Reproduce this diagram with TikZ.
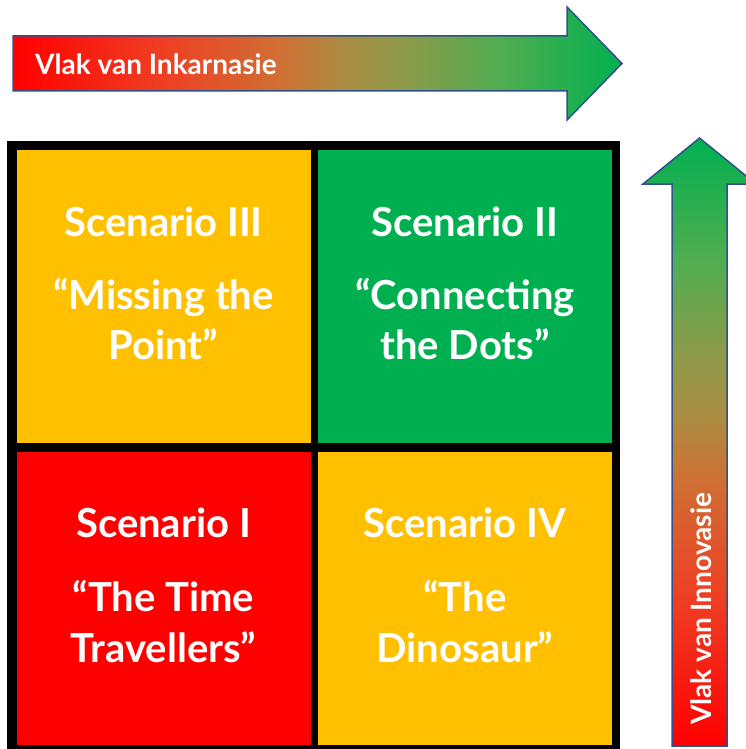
\documentclass[tikz,border=0pt]{standalone}
\usepackage{fontspec}
\setmainfont{Lato}
\definecolor{scenred}{HTML}{FF0000}
\definecolor{scenyellow}{HTML}{FFC000}
\definecolor{scengreen}{HTML}{00B050}
\definecolor{axisblue}{HTML}{2F528F}
\definecolor{axisa}{HTML}{EE4024}
\definecolor{axisb}{HTML}{CF7034}
\definecolor{axisc}{HTML}{AC8C42}
\definecolor{axisd}{HTML}{8E9A4A}
\definecolor{axise}{HTML}{50AD50}
\pgfdeclarehorizontalshading{inkarshade}{100bp}{color(0bp)=(scenred); color(25bp)=(scenred);
  color(37.5bp)=(axisa); color(47bp)=(axisb); color(52bp)=(axisc); color(57bp)=(axisd);
  color(65bp)=(axise); color(75bp)=(scengreen); color(100bp)=(scengreen)}
\pgfdeclareverticalshading{innovshade}{100bp}{color(0bp)=(scenred); color(25bp)=(scenred);
  color(37.5bp)=(axisa); color(47bp)=(axisb); color(52bp)=(axisc); color(57bp)=(axisd);
  color(65bp)=(axise); color(75bp)=(scengreen); color(100bp)=(scengreen)}
\tikzset{
cell/.style={fill=#1, minimum width=294pt, minimum height=293pt, inner sep=0pt},
scen/.style={text=white, font=\bfseries\fontsize{40}{48}\selectfont, anchor=base},
axis/.style={draw=axisblue, line width=1.5pt, line join=miter},
axislabel/.style={text=white, font=\bfseries\fontsize{28}{32}\selectfont, anchor=base west, inner sep=0pt}
}

\begin{document}
\begin{tikzpicture}[x=1pt, y=-1pt]
\useasboundingbox (0,0) rectangle (746,749);
% the four scenarios
\fill (7,141) rectangle (620,749);
\node[cell=scenyellow] (tl) at (163.5,296.5) {};
\node[cell=scengreen] (tr) at (465,296.5) {};
\node[cell=scenred] (bl) at (163.5,598.5) {};
\node[cell=scenyellow] (br) at (465,598.5) {};

\node[scen] (tl-name) at ([yshift=-87pt]tl.north) {Scenario III};
\node[scen] (tl-a) at ([yshift=-160pt]tl.north) {“Missing the};
\node[scen] (tl-b) at ([yshift=-210pt]tl.north) {Point”};

\node[scen] (tr-name) at ([yshift=-87pt]tr.north) {Scenario II};
\node[scen] (tr-a) at ([yshift=-160pt]tr.north) {“Connecting};
\node[scen] (tr-b) at ([yshift=-210pt]tr.north) {the Dots”};

\node[scen] (bl-name) at ([yshift=-86pt]bl.north) {Scenario I};
\node[scen] (bl-a) at ([yshift=-160pt]bl.north) {“The Time};
\node[scen] (bl-b) at ([yshift=-211pt]bl.north) {Travellers”};

\node[scen] (br-name) at ([yshift=-86pt]br.north) {Scenario IV};
\node[scen] (br-a) at ([yshift=-160pt]br.north) {“The};
\node[scen] (br-b) at ([yshift=-211pt]br.north) {Dinosaur”};

% the two axes
\shadedraw[axis, shading=inkarshade]
  (13,36) -- (567,36) -- (567,7) -- (622,63.5) -- (567,120) -- (567,91) -- (13,91) -- cycle;
\node[axislabel] (inkar) at (35,75) {Vlak van Inkarnasie};

\shadedraw[axis, shading=innovshade]
  (672,746) -- (672,184) -- (643,184) -- (699.5,138) -- (756,184) -- (727,184) -- (727,746) -- cycle;
\node[axislabel, rotate=90] (innov) at (711,725) {Vlak van Innovasie};
\end{tikzpicture}
\end{document}
